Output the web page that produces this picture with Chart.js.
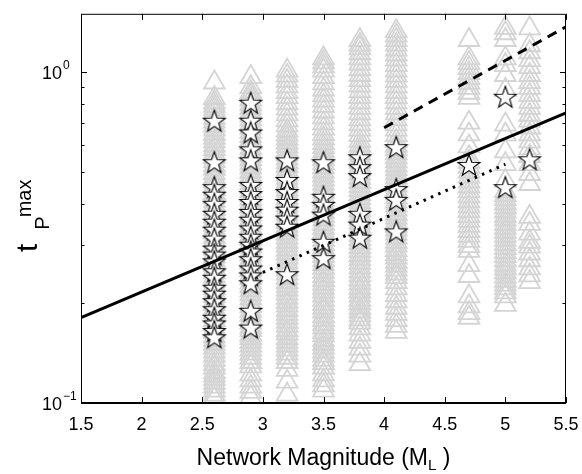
<!DOCTYPE html>
<html>
<head>
<meta charset="utf-8">
<script src="https://cdn.jsdelivr.net/npm/chart.js@4.4.0/dist/chart.umd.min.js"></script>
<style>
    html, body { margin: 0; padding: 0; background: #fff; }
    #contenedor { width: 582px; height: 474px; }
</style>
</head>
<body>
<div id="contenedor"><canvas id="chartTiempos" width="582" height="474"></canvas></div>
<script>
// magnitudes de cada columna
const magnitudes = [2.6, 2.9, 3.2, 3.5, 3.8, 4.1, 4.7, 5.0, 5.2];

// triangulos grises (todas las estaciones)
const tri26 = [0.93, 0.835, 0.81, 0.79, 0.77, 0.75, 0.727, 0.708, 0.689, 0.67, 0.651, 0.634, 0.617, 0.6, 0.585, 0.568, 0.553, 0.538, 0.523, 0.51, 0.495, 0.481, 0.468, 0.455, 0.443, 0.431, 0.419, 0.408, 0.397, 0.386, 0.375, 0.365, 0.355, 0.345, 0.336, 0.327, 0.318, 0.31, 0.301, 0.293, 0.285, 0.277, 0.269, 0.262, 0.255, 0.248, 0.241, 0.234, 0.228, 0.222, 0.216, 0.21, 0.204, 0.199, 0.193, 0.188, 0.183, 0.178, 0.173, 0.168, 0.164, 0.159, 0.155, 0.151, 0.147, 0.143, 0.139, 0.135, 0.131, 0.128, 0.124, 0.121, 0.118, 0.115, 0.112, 0.109, 0.106, 0.103];
const tri29 = [0.966, 0.9, 0.87, 0.85, 0.826, 0.8, 0.78, 0.76, 0.74, 0.72, 0.7, 0.68, 0.66, 0.64, 0.625, 0.61, 0.59, 0.575, 0.56, 0.545, 0.53, 0.515, 0.5, 0.487, 0.474, 0.461, 0.449, 0.437, 0.425, 0.414, 0.403, 0.392, 0.381, 0.371, 0.361, 0.351, 0.341, 0.332, 0.323, 0.314, 0.305, 0.297, 0.289, 0.281, 0.273, 0.266, 0.259, 0.252, 0.245, 0.238, 0.231, 0.225, 0.219, 0.213, 0.207, 0.201, 0.196, 0.19, 0.185, 0.18, 0.175, 0.17, 0.166, 0.161, 0.157, 0.153, 0.149, 0.145, 0.141, 0.137, 0.133, 0.129, 0.122, 0.117, 0.112, 0.108, 0.104];
const tri32 = [1.01, 0.975, 0.94, 0.905, 0.87, 0.84, 0.805, 0.775, 0.745, 0.715, 0.69, 0.665, 0.647, 0.63, 0.612, 0.596, 0.58, 0.564, 0.549, 0.534, 0.52, 0.506, 0.492, 0.479, 0.466, 0.453, 0.441, 0.429, 0.417, 0.406, 0.395, 0.384, 0.373, 0.363, 0.353, 0.343, 0.334, 0.325, 0.316, 0.307, 0.299, 0.291, 0.283, 0.275, 0.267, 0.26, 0.253, 0.246, 0.239, 0.232, 0.226, 0.22, 0.214, 0.208, 0.202, 0.197, 0.191, 0.186, 0.181, 0.176, 0.171, 0.166, 0.162, 0.157, 0.153, 0.149, 0.145, 0.141, 0.137, 0.133, 0.126, 0.116, 0.106];
const tri35 = [1.1, 1.07, 1.04, 1.01, 0.965, 0.925, 0.885, 0.85, 0.82, 0.79, 0.76, 0.73, 0.7, 0.675, 0.65, 0.63, 0.61, 0.593, 0.576, 0.56, 0.545, 0.53, 0.515, 0.5, 0.487, 0.473, 0.46, 0.447, 0.435, 0.423, 0.411, 0.4, 0.389, 0.378, 0.368, 0.358, 0.348, 0.338, 0.329, 0.32, 0.311, 0.302, 0.294, 0.286, 0.278, 0.27, 0.263, 0.256, 0.249, 0.242, 0.235, 0.229, 0.223, 0.217, 0.211, 0.205, 0.199, 0.194, 0.189, 0.183, 0.178, 0.173, 0.169, 0.164, 0.16, 0.155, 0.151, 0.147, 0.143, 0.139, 0.135, 0.132, 0.128, 0.122, 0.117, 0.113, 0.109];
const tri38 = [1.25, 1.21, 1.18, 1.14, 1.1, 1.06, 1.02, 0.98, 0.945, 0.91, 0.875, 0.84, 0.81, 0.78, 0.75, 0.72, 0.695, 0.67, 0.645, 0.62, 0.6, 0.583, 0.567, 0.551, 0.536, 0.521, 0.507, 0.493, 0.479, 0.466, 0.453, 0.44, 0.428, 0.416, 0.404, 0.393, 0.382, 0.371, 0.361, 0.351, 0.341, 0.332, 0.322, 0.313, 0.305, 0.296, 0.288, 0.28, 0.272, 0.265, 0.257, 0.25, 0.243, 0.236, 0.23, 0.223, 0.217, 0.211, 0.205, 0.2, 0.194, 0.189, 0.184, 0.179, 0.175, 0.168, 0.161, 0.153, 0.146, 0.139, 0.131];
const tri41 = [1.33, 1.29, 1.25, 1.21, 1.17, 1.13, 1.09, 1.05, 1.01, 0.975, 0.94, 0.905, 0.87, 0.84, 0.81, 0.78, 0.75, 0.72, 0.695, 0.67, 0.645, 0.62, 0.6, 0.584, 0.568, 0.552, 0.537, 0.522, 0.508, 0.494, 0.48, 0.467, 0.454, 0.442, 0.43, 0.418, 0.406, 0.395, 0.384, 0.373, 0.363, 0.353, 0.343, 0.334, 0.325, 0.316, 0.307, 0.299, 0.29, 0.282, 0.275, 0.267, 0.26, 0.253, 0.246, 0.24, 0.232, 0.222, 0.212, 0.203, 0.194, 0.186, 0.178, 0.171, 0.164];
const tri47 = [1.25, 1.1, 1.064, 1.028, 0.993, 0.959, 0.927, 0.896, 0.866, 0.836, 0.703, 0.648, 0.596, 0.553, 0.535, 0.517, 0.5, 0.483, 0.467, 0.451, 0.436, 0.421, 0.407, 0.393, 0.38, 0.367, 0.355, 0.343, 0.331, 0.32, 0.309, 0.298, 0.288, 0.261, 0.242, 0.21, 0.196, 0.187, 0.181];
const tri50 = [1.36, 1.31, 1.25, 1.1, 1.05, 0.98, 0.884, 0.694, 0.648, 0.576, 0.527, 0.469, 0.437, 0.425, 0.413, 0.401, 0.39, 0.379, 0.368, 0.358, 0.348, 0.338, 0.329, 0.32, 0.311, 0.302, 0.294, 0.286, 0.278, 0.27, 0.262, 0.255, 0.248, 0.241, 0.234, 0.228, 0.222, 0.216, 0.21, 0.198];
const tri52 = [1.355, 1.205, 1.148, 1.086, 1.035, 0.98, 0.933, 0.896, 0.853, 0.813, 0.78, 0.743, 0.713, 0.68, 0.648, 0.617, 0.588, 0.557, 0.527, 0.492, 0.459, 0.365, 0.348, 0.325, 0.307, 0.297, 0.283, 0.27, 0.255, 0.243, 0.232];

// estrellas (eventos seleccionados)
const est26 = [0.713, 0.534, 0.449, 0.426, 0.4, 0.373, 0.353, 0.334, 0.314, 0.293, 0.281, 0.268, 0.25, 0.239, 0.223, 0.214, 0.203, 0.192, 0.181, 0.174, 0.165, 0.158];
const est29 = [0.808, 0.713, 0.657, 0.584, 0.541, 0.456, 0.428, 0.405, 0.378, 0.358, 0.337, 0.318, 0.301, 0.287, 0.272, 0.255, 0.243, 0.23, 0.19, 0.169];
const est32 = [0.541, 0.472, 0.434, 0.405, 0.384, 0.361, 0.341, 0.245];
const est35 = [0.534, 0.42, 0.397, 0.371, 0.307, 0.274];
const est38 = [0.553, 0.516, 0.485, 0.373, 0.346, 0.316];
const est41 = [0.593, 0.443, 0.411, 0.33];
const est47 = [0.524];
const est50 = [0.842, 0.449];
const est52 = [0.545];

// rectas de ajuste
const solidaX = [1.5, 5.5];
const solidaY = [0.181, 0.753];
const discontX = [4.0, 5.5];
const discontY = [0.679, 1.37];
const puntosX = [3.0, 5.0];
const puntosY = [0.248, 0.527];

// ticks
const xTicks = [1.5, 2, 2.5, 3, 3.5, 4, 4.5, 5, 5.5];
const xEtiquetas = ['1.5', '2', '2.5', '3', '3.5', '4', '4.5', '5', '5.5'];
const yMayores = [0.1, 1];
const yExponentes = ['\u22121', '0'];
const yMenores = [0.2, 0.3, 0.4, 0.5, 0.6, 0.7, 0.8, 0.9];

const FUENTE = '"Liberation Sans", Arial, Helvetica, sans-serif';

const triangulos = [tri26, tri29, tri32, tri35, tri38, tri41, tri47, tri50, tri52];
const estrellas = [est26, est29, est32, est35, est38, est41, est47, est50, est52];

const columna = (lista) => lista.flatMap((vals, i) => vals.map(v => ({ x: magnitudes[i], y: v })));
const recta = (xs, ys) => xs.map((x, i) => ({ x: x, y: ys[i] }));

const crearEstrella = (r) => {
    const c = document.createElement('canvas');
    const s = 28;
    c.width = s;
    c.height = s;
    const g = c.getContext('2d');
    g.beginPath();
    for (let i = 0; i < 10; i++) {
        const rad = i % 2 === 0 ? r : r * 0.4;
        const ang = -Math.PI / 2 + i * Math.PI / 5;
        const px = s / 2 + rad * Math.cos(ang);
        const py = s / 2 + 1 + rad * Math.sin(ang);
        if (i === 0) g.moveTo(px, py); else g.lineTo(px, py);
    }
    g.closePath();
    g.fillStyle = '#ffffff';
    g.fill();
    g.lineWidth = 1.1;
    g.strokeStyle = '#000000';
    g.stroke();
    return c;
};

const estrella = crearEstrella(11.5);

// ejes estilo matlab, ticks hacia adentro
const ejes = {
    id: 'ejes',
    afterDatasetsDraw(chart) {
        const { ctx, chartArea: a, scales: { x, y } } = chart;
        ctx.save();
        ctx.strokeStyle = '#000';
        ctx.lineWidth = 1;
        ctx.beginPath();
        ctx.moveTo(a.left + 0.5, a.bottom);
        ctx.lineTo(a.left + 0.5, a.top + 0.5);
        ctx.lineTo(a.right - 0.5, a.top + 0.5);
        ctx.lineTo(a.right - 0.5, a.bottom);
        ctx.stroke();
        ctx.lineWidth = 2;
        ctx.beginPath();
        ctx.moveTo(a.left, a.bottom);
        ctx.lineTo(a.right, a.bottom);
        ctx.stroke();

        ctx.lineWidth = 1;
        ctx.beginPath();
        xTicks.forEach(v => {
            const px = Math.round(x.getPixelForValue(v)) + 0.5;
            ctx.moveTo(px, a.bottom);
            ctx.lineTo(px, a.bottom - 6);
            ctx.moveTo(px, a.top);
            ctx.lineTo(px, a.top + 6);
        });
        yMayores.forEach(v => {
            const py = Math.round(y.getPixelForValue(v)) + 0.5;
            ctx.moveTo(a.left, py);
            ctx.lineTo(a.left + 6, py);
            ctx.moveTo(a.right, py);
            ctx.lineTo(a.right - 6, py);
        });
        yMenores.forEach(v => {
            const py = Math.round(y.getPixelForValue(v)) + 0.5;
            ctx.moveTo(a.left, py);
            ctx.lineTo(a.left + 3.5, py);
            ctx.moveTo(a.right, py);
            ctx.lineTo(a.right - 3.5, py);
        });
        ctx.stroke();

        ctx.fillStyle = '#000';
        ctx.font = '18px ' + FUENTE;
        ctx.textAlign = 'center';
        ctx.textBaseline = 'alphabetic';
        xTicks.forEach((v, i) => {
            ctx.fillText(xEtiquetas[i], x.getPixelForValue(v), a.bottom + 27);
        });

        yMayores.forEach((v, i) => {
            const py = y.getPixelForValue(v);
            ctx.font = '18px ' + FUENTE;
            ctx.textAlign = 'right';
            ctx.fillText('10', 62, py + 7);
            ctx.font = '12px ' + FUENTE;
            ctx.textAlign = 'left';
            ctx.fillText(yExponentes[i], 63, py - 3);
        });

        // titulo eje x
        const base = 'Network Magnitude (M';
        ctx.font = '23px ' + FUENTE;
        const w1 = ctx.measureText(base).width;
        ctx.font = '15px ' + FUENTE;
        const w2 = ctx.measureText('L').width;
        ctx.font = '23px ' + FUENTE;
        const w3 = ctx.measureText(' )').width;
        let cx = (a.left + a.right) / 2 - (w1 + w2 + w3) / 2;
        ctx.textAlign = 'left';
        ctx.fillText(base, cx, 465);
        cx += w1;
        ctx.font = '15px ' + FUENTE;
        ctx.fillText('L', cx, 470);
        cx += w2;
        ctx.font = '23px ' + FUENTE;
        ctx.fillText(' )', cx, 465);

        // titulo eje y
        ctx.translate(37, 252);
        ctx.rotate(-Math.PI / 2);
        ctx.font = '30px ' + FUENTE;
        ctx.fillText('t', 0, 0);
        const wt = ctx.measureText('t').width + 14;
        ctx.font = '20px ' + FUENTE;
        ctx.fillText('P', wt, 12);
        const wp = ctx.measureText('P').width;
        ctx.fillText('max', wt + wp - 1, -6);
        ctx.restore();
    }
};

const canvas = document.getElementById('chartTiempos');
const context = canvas.getContext('2d');

const chartTiempos = new Chart(context, {
    type: 'scatter',
    data: {
        datasets: [
            {
                label: 'ajuste',
                data: recta(solidaX, solidaY),
                showLine: true,
                borderColor: '#000',
                borderWidth: 3,
                pointRadius: 0,
                order: 0
            },
            {
                label: 'superior',
                data: recta(discontX, discontY),
                showLine: true,
                borderColor: '#000',
                borderWidth: 3,
                borderDash: [10, 7],
                pointRadius: 0,
                order: 0
            },
            {
                label: 'inferior',
                data: recta(puntosX, puntosY),
                showLine: true,
                borderColor: '#000',
                borderWidth: 3,
                borderDash: [2.5, 5.5],
                pointRadius: 0,
                order: 0
            },
            {
                label: 'seleccionados',
                data: columna(estrellas),
                pointStyle: estrella,
                pointRadius: 11,
                order: 1
            },
            {
                label: 'todos',
                data: columna(triangulos),
                pointStyle: 'triangle',
                pointRadius: 12,
                borderColor: '#d4d4d4',
                backgroundColor: 'rgba(0,0,0,0)',
                borderWidth: 1.8,
                clip: { left: 5, top: 8, right: 5, bottom: 0 },
                order: 2
            }
        ]
    },
    options: {
        responsive: false,
        animation: false,
        devicePixelRatio: 1,
        layout: { padding: { left: 81, right: 16, top: 11, bottom: 71 } },
        plugins: {
            legend: { display: false },
            tooltip: { enabled: false }
        },
        scales: {
            x: { type: 'linear', min: 1.5, max: 5.5, display: false },
            y: { type: 'logarithmic', min: 0.1, max: 1.5, display: false }
        }
    },
    plugins: [ejes]
});
</script>
</body>
</html>
